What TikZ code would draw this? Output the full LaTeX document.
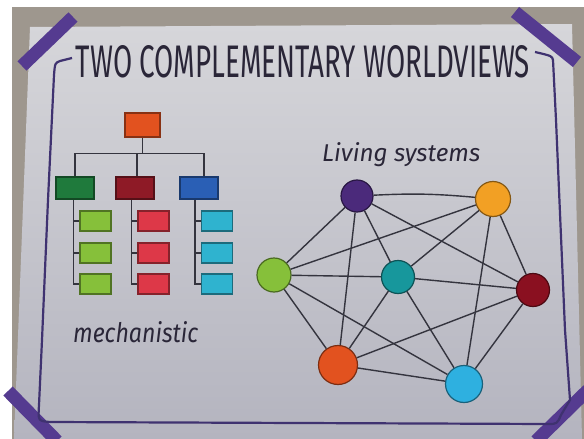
\documentclass[tikz,border=0pt]{standalone}
\usepackage{fontspec}
\setmainfont{Fira Sans}
\usepackage{xcolor}
\definecolor{wvbackdrop}{HTML}{9E978E}
\definecolor{wvpaper-top}{HTML}{D6D6DA}
\definecolor{wvpaper-bottom}{HTML}{B4B4BF}
\definecolor{wvtape}{HTML}{553B90}
\definecolor{wvframe}{HTML}{3F3270}
\definecolor{wvink}{HTML}{2A2638}
\definecolor{wvline}{HTML}{34343E}
\definecolor{wvorange}{HTML}{E2521F}
\definecolor{wvgreen-dark}{HTML}{1F7A3C}
\definecolor{wvred-dark}{HTML}{8E1A26}
\definecolor{wvblue}{HTML}{2A5FB5}
\definecolor{wvgreen-light}{HTML}{86C03A}
\definecolor{wvred-light}{HTML}{DD3848}
\definecolor{wvcyan}{HTML}{2FB3CF}
\definecolor{wvpurple}{HTML}{4B2A7B}
\definecolor{wvamber}{HTML}{F2A024}
\definecolor{wvteal}{HTML}{17979C}
\definecolor{wvmaroon}{HTML}{8A1020}
\definecolor{wvsky}{HTML}{2EB0E0}
\usepackage{tikz}
\tikzset{
  % --- BOARD ---
  tape/.style={
    draw=wvtape,
    line width=13pt
  },
  frame-line/.style={
    draw=wvframe,
    line width=2.2pt,
    line join=round
  },
  % --- TEXT ---
  title-text/.style={
    text=wvink,
    inner sep=0pt
  },
  hand-text/.style={
    text=wvink,
    font=\itshape,
    inner sep=0pt
  },
  % --- HIERARCHY ---
  box/.style={
    fill=#1,
    draw=#1!60!black,
    line width=1.2pt,
    inner sep=0pt
  },
  box-top/.style={minimum width=35pt, minimum height=24pt},
  box-mid/.style={minimum width=38pt, minimum height=22pt},
  leaf/.style={minimum width=31pt, minimum height=20pt},
  tree-line/.style={
    draw=wvline,
    line width=1.3pt
  },
  % --- NETWORK ---
  bubble/.style={
    circle,
    fill=#1,
    draw=#1!55!black,
    line width=1.2pt,
    inner sep=0pt
  },
  link/.style={
    draw=wvline,
    line width=1.4pt
  },
}

\begin{document}
\begin{tikzpicture}[x=1pt, y=-1pt]
  \useasboundingbox (0,0) rectangle (584,439);
  % --- photo backdrop and paper
  \fill[wvbackdrop] (12,7) rectangle (584,439);
  \shade[top color=wvpaper-top, bottom color=wvpaper-bottom]
    (30,27) -- (572,24) -- (582,439) -- (14,439) -- cycle;
  % --- tape on the corners
  \draw[tape] (22,66) -- (73,17);
  \draw[tape] (515,12) -- (577,62);
  \draw[tape] (8,391) -- (57,441);
  \draw[tape] (588,390) -- (536,441);
  % --- hand drawn frame
  \draw[frame-line] (72,58) -- (60,61) .. controls (55,63) .. (54,75)
    -- (48,200) -- (42,340) -- (39,405) .. controls (38,421) .. (50,422)
    -- (300,423) -- (548,424) .. controls (557,424) .. (561,415)
    -- (570,400) -- (565,330) -- (556,120) -- (553,60)
    .. controls (552,56) .. (535,52);
  % --- title
  \node[title-text] (title) at (303,62)
    {\resizebox{454pt}{32pt}{TWO COMPLEMENTARY WORLDVIEWS}};
  % --- mechanistic hierarchy
  \node[box=wvorange, box-top]     (top)   at (142.5,125) {};
  \node[box=wvgreen-dark, box-mid] (mid-g) at (75,188) {};
  \node[box=wvred-dark, box-mid]   (mid-r) at (135,188) {};
  \node[box=wvblue, box-mid]       (mid-b) at (199,188) {};
  \foreach \col/\x/\c in {g/95.5/wvgreen-light, r/153.5/wvred-light, b/217/wvcyan} {
    \foreach \row/\y in {1/221, 2/253, 3/284}
      \node[box=\c, leaf] (leaf-\col\row) at (\x,\y) {};
    \draw[tree-line] ([xshift=-6pt]leaf-\col1.west |- mid-\col.south) |- (leaf-\col3.west);
    \draw[tree-line] ([xshift=-6pt]leaf-\col1.west) -- (leaf-\col1.west);
    \draw[tree-line] ([xshift=-6pt]leaf-\col2.west) -- (leaf-\col2.west);
  }
  \draw[tree-line] (top.south) -- ++(0,16) coordinate (bus);
  \draw[tree-line] (mid-g.north) |- (bus) -| ([xshift=5pt]mid-b.north);
  \draw[tree-line] ([xshift=2pt]mid-r.north) -- ([xshift=2pt]mid-r.north |- bus);
  \node[hand-text, anchor=south west] (mech) at (73,343)
    {\resizebox{125pt}{21pt}{mechanistic}};
  % --- living systems network
  \node[hand-text, anchor=base west] (living) at (322,161)
    {\resizebox{158pt}{!}{Living systems}};
  \node[bubble=wvpurple, minimum size=32pt] (purple) at (357,196) {};
  \node[bubble=wvamber,  minimum size=35pt] (amber)  at (493,199) {};
  \node[bubble=wvgreen-light, minimum size=34pt] (green) at (274,275) {};
  \node[bubble=wvteal,   minimum size=33pt] (teal)   at (398,277) {};
  \node[bubble=wvmaroon, minimum size=33pt] (maroon) at (533,290) {};
  \node[bubble=wvorange, minimum size=39pt] (orange) at (338,365) {};
  \node[bubble=wvsky,    minimum size=37pt] (sky)    at (464,384) {};
  \draw[link] (purple) to[bend left=4] (amber);
  \foreach \a/\b in {purple/green, purple/teal, purple/orange, purple/maroon,
                     amber/green, amber/teal, amber/maroon, amber/sky,
                     green/teal, green/orange, green/sky,
                     teal/orange, teal/sky, teal/maroon,
                     maroon/orange, maroon/sky, orange/sky}
    \draw[link] (\a) -- (\b);
\end{tikzpicture}
\end{document}
